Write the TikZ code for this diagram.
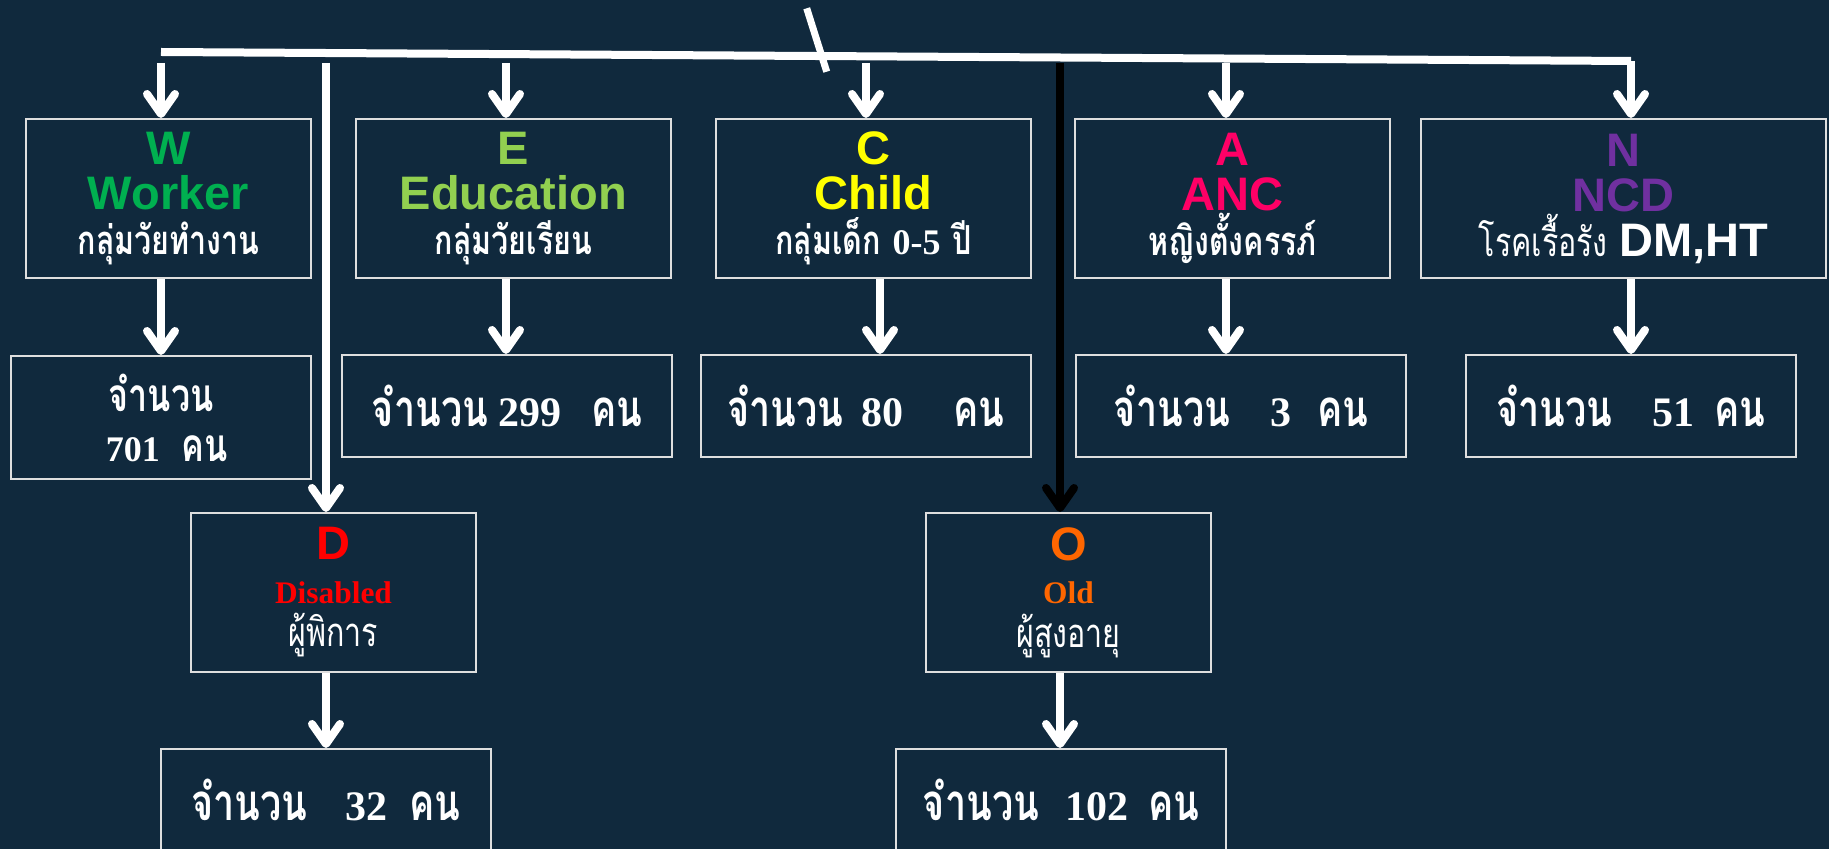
\documentclass[tikz,border=0pt]{standalone}
\usepackage{fontspec}
\setmainfont{Liberation Serif}
\newfontfamily\latfont{Liberation Sans}
\newfontfamily\thaifont[Script=Thai,FakeStretch=0.76]{Loma}
\newfontfamily\thaicnt[Script=Thai,FakeStretch=0.74]{Loma}
\newfontfamily\numfont{Liberation Serif}
\usetikzlibrary{arrows.meta}

\definecolor{bgnavy}{RGB}{16,41,61}
\definecolor{boxline}{RGB}{222,222,222}
\definecolor{wgreen}{RGB}{0,176,80}
\definecolor{egreen}{RGB}{146,208,80}
\definecolor{cyellow}{RGB}{255,255,0}
\definecolor{apink}{RGB}{255,0,102}
\definecolor{npurple}{RGB}{112,48,160}
\definecolor{dred}{RGB}{255,0,0}
\definecolor{oorange}{RGB}{255,102,0}

\newcommand{\hd}[2]{{\latfont\bfseries\fontsize{23.5}{22.5}\selectfont\color{#1}#2}}
\newcommand{\eng}[2]{{\bfseries\fontsize{15.7}{16}\selectfont\color{#1}#2}}
\newcommand{\thtxt}[1]{{\thaifont\fontsize{20}{22}\selectfont #1}}
\newcommand{\thb}[1]{{\thaifont\bfseries\fontsize{20}{22}\selectfont #1}}
\newcommand{\cnt}[1]{{\thaicnt\bfseries\fontsize{25.5}{25}\selectfont #1}}
\newcommand{\num}[1]{{\numfont\bfseries\fontsize{21}{25}\selectfont #1}}

\tikzset{
  grpbox/.style={draw=boxline, line width=1pt, fill=bgnavy, text=white,
    minimum width=157.5pt, minimum height=79.5pt, inner sep=0pt, align=center,
    font=\fontsize{23.5}{22.5}\selectfont},
  cntbox/.style={draw=boxline, line width=1pt, fill=bgnavy, text=white,
    minimum width=165pt, minimum height=51pt, inner sep=0pt, align=center,
    font=\fontsize{20}{25}\selectfont},
  arr/.style={white, line width=4pt, -{Straight Barb[length=10pt,width=14pt,round]}},
  trunk/.style={white, line width=4pt},
}

\begin{document}
\begin{tikzpicture}[x=0.5pt,y=-0.5pt]
\clip (0,0) rectangle (1829,849);
\fill[bgnavy] (0,0) rectangle (1829,849);

\node[grpbox,minimum width=142.5pt] (W) at (168.5,198.5)
  {\hd{wgreen}{W}\\\hd{wgreen}{Worker}\\\thb{กลุ่มวัยทำงาน}};
\node[grpbox] (E) at (513.5,198.5)
  {\hd{egreen}{E}\\\hd{egreen}{Education}\\\thb{กลุ่มวัยเรียน}};
\node[grpbox] (C) at (873.5,198.5)
  {\hd{cyellow}{C}\\\hd{cyellow}{Child}\\\thb{กลุ่มเด็ก} {\numfont\bfseries\fontsize{18}{22}\selectfont 0-5} \thb{ปี}};
\node[grpbox] (A) at (1232.5,198.5)
  {\hd{apink}{A}\\\hd{apink}{ANC}\\\thb{หญิงตั้งครรภ์}};
\node[grpbox,minimum width=202.5pt] (N) at (1623.5,198.5)
  {\hd{npurple}{N}\\\hd{npurple}{NCD}\\\thtxt{โรคเรื้อรัง} \hd{white}{DM,HT}};

\node[cntbox,minimum width=150pt,minimum height=61.5pt] (Wn) at (161,417.5)
  {{\thaicnt\bfseries\fontsize{23}{25}\selectfont จำนวน}\\
   \hspace{6pt}{\numfont\bfseries\fontsize{18}{25}\selectfont 701}\hspace{11pt}{\thaicnt\bfseries\fontsize{23}{25}\selectfont คน}};
\node[cntbox] (En) at (507,406) {\cnt{จำนวน}\hspace{5pt}\num{299}\hspace{15pt}\cnt{คน}};
\node[cntbox] (Cn) at (866,406) {\cnt{จำนวน}\hspace{9pt}\num{80}\hspace{25pt}\cnt{คน}};
\node[cntbox] (An) at (1241,406) {\cnt{จำนวน}\hspace{20pt}\num{3}\hspace{13pt}\cnt{คน}};
\node[cntbox] (Nn) at (1631,406) {\cnt{จำนวน}\hspace{20pt}\num{51}\hspace{10pt}\cnt{คน}};

\node[grpbox,minimum width=142.5pt,font=\fontsize{20}{21.75}\selectfont] (D) at (333.5,592.5)
  {\hd{dred}{D}\\\eng{dred}{Disabled}\\\thtxt{ผู้พิการ}};
\node[grpbox,minimum width=142.5pt,font=\fontsize{20}{21.75}\selectfont] (O) at (1068.5,592.5)
  {\hd{oorange}{O}\\\eng{oorange}{Old}\\\thtxt{ผู้สูงอายุ}};

\node[cntbox] (Dn) at (326,800) {\cnt{จำนวน}\hspace{19pt}\num{32}\hspace{11pt}\cnt{คน}};
\node[cntbox] (On) at (1061,800) {\cnt{จำนวน}\hspace{13pt}\num{102}\hspace{10pt}\cnt{คน}};

\coordinate (tl) at (161,52);
\coordinate (tr) at (1631,61);
\coordinate (aW) at (161,63);
\coordinate (aE) at (506,63);
\coordinate (aC) at (866,63);
\coordinate (bC) at (880,63);
\coordinate (aA) at (1226,63);
\coordinate (aD) at (326,63);
\coordinate (aO) at (1060,63);

\draw[trunk] (tl) -- (tr);
\draw[white, line width=3.5pt] (806.7,8.3) -- (826.7,71.7);

\draw[arr] (aW) -- (aW |- W.north);
\draw[arr] (aE) -- (aE |- E.north);
\draw[arr] (aC) -- (aC |- C.north);
\draw[arr] (aA) -- (aA |- A.north);
\draw[arr] (tr) -- (tr |- N.north);
\draw[arr] (aD) -- (aD |- D.north);
\draw[arr,black] (aO) -- (aO |- O.north);

\draw[arr] (aW |- W.south) -- (aW |- Wn.north);
\draw[arr] (aE |- E.south) -- (aE |- En.north);
\draw[arr] (bC |- C.south) -- (bC |- Cn.north);
\draw[arr] (aA |- A.south) -- (aA |- An.north);
\draw[arr] (tr |- N.south) -- (tr |- Nn.north);
\draw[arr] (aD |- D.south) -- (aD |- Dn.north);
\draw[arr] (aO |- O.south) -- (aO |- On.north);
\end{tikzpicture}
\end{document}
